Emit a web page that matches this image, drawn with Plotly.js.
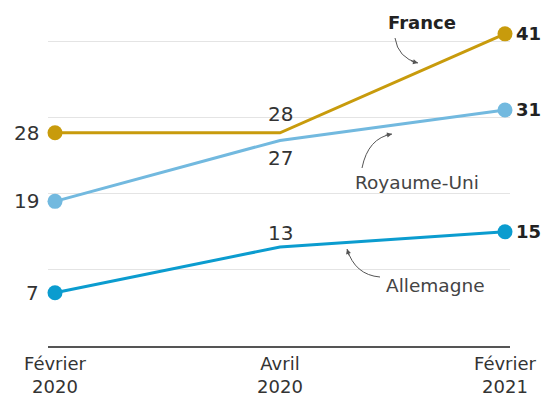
<!DOCTYPE html>
<html>
<head>
<meta charset="utf-8">
<script src="https://cdn.plot.ly/plotly-3.0.1.min.js"></script>
<style>html,body{margin:0;padding:0;background:#fff;}#chart{width:542px;height:401px;}</style>
</head>
<body>
<div id="chart"></div>
<script>
// ---- Data ----
const periods = ["Février<br>2020", "Avril<br>2020", "Février<br>2021"];
const france = [28, 28, 41];
const royaumeUni = [19, 27, 31];
const allemagne = [7, 13, 15];
const seriesNames = ["France", "Royaume-Uni", "Allemagne"];

// ---- Styling ----
const FONT = "DejaVu Sans, Liberation Sans, Arial, sans-serif";
const colors = {France: "#c89b0c", "Royaume-Uni": "#72b9df", Allemagne: "#0b9ccf"};
const xIdx = periods.map((_, i) => i);

// layout geometry
const L = 48, R = 32, T = 11, B = 55, W = 542, H = 401;
const xr = [-7 / 225, 2 + 5 / 225];
const yr = [0, 44];
// pixel -> data helper for annotation decorations
function P(px, py) {
  const x = xr[0] + (px - L) / (W - L - R) * (xr[1] - xr[0]);
  const y = yr[0] + (H - B - py) / (H - T - B) * (yr[1] - yr[0]);
  return [x, y];
}

function trace(name, vals) {
  return {
    x: xIdx, y: vals, name: name, type: "scatter",
    mode: "lines+markers",
    line: {color: colors[name], width: 3},
    marker: {color: colors[name], size: 15, opacity: [1, 0, 1]},
    cliponaxis: false,
    hoverinfo: "skip"
  };
}

const data = [
  trace("Allemagne", allemagne),
  trace("Royaume-Uni", royaumeUni),
  trace("France", france)
];

// value labels, read from the data arrays
function valueLabels(vals, midShift) {
  return vals.map((v, i) => {
    const a = {x: xIdx[i], y: v, xref: "x", yref: "y", showarrow: false,
      yanchor: "middle", text: String(v),
      font: {family: FONT, size: 20, color: "#333"}};
    if (i === 0) { a.xanchor = "right"; a.xshift = -14; }
    else if (i === 2) {
      a.xanchor = "left"; a.xshift = 9; a.text = "<b>" + v + "</b>";
      a.font = {family: FONT, size: 18, color: "#222"};
    }
    else { a.xanchor = "center"; a.yshift = midShift; }
    return a;
  });
}

// curved pointer paths (in pixel space converted to data)
function curve(p0, c, p1) {
  const a = P(...p0), b = P(...c), d = P(...p1);
  return `M ${a[0]},${a[1]} Q ${b[0]},${b[1]} ${d[0]},${d[1]}`;
}
const shapes = [
  {type: "path", xref: "x", yref: "y", path: curve([395, 38], [398, 58], [418, 63]), line: {color: "#555", width: 1}},
  {type: "path", xref: "x", yref: "y", path: curve([362, 168], [368, 138], [392, 134]), line: {color: "#555", width: 1}},
  {type: "path", xref: "x", yref: "y", path: curve([380, 277], [355, 275], [347, 249]), line: {color: "#555", width: 1}}
];

function head(px, py, ax, ay) {
  const p = P(px, py);
  return {x: p[0], y: p[1], xref: "x", yref: "y", text: "", showarrow: true,
    ax: ax, ay: ay, axref: "pixel", ayref: "pixel",
    arrowhead: 2, arrowsize: 1, arrowwidth: 1, arrowcolor: "#555", standoff: 0};
}
function label(txt, px, py, bold) {
  const p = P(px, py);
  return {x: p[0], y: p[1], xref: "x", yref: "y", text: bold ? "<b>" + txt + "</b>" : txt,
    showarrow: false, xanchor: "center", yanchor: "middle",
    font: {family: FONT, size: bold ? 18 : 18.5, color: bold ? "#222" : "#444"}};
}

const annotations = [].concat(
  valueLabels(france, 19),
  valueLabels(royaumeUni, -18),
  valueLabels(allemagne, 14),
  [
    label(seriesNames[0], 422, 22, true),
    label(seriesNames[1], 417, 182, false),
    label(seriesNames[2], 435, 285, false),
    head(418, 63, -8, -2),
    head(392, 134, -8, 1.5),
    head(347, 249, 2.5, 8)
  ]
);

const layout = {
  width: W, height: H,
  margin: {l: L, r: R, t: T, b: B},
  paper_bgcolor: "#fff", plot_bgcolor: "#fff",
  showlegend: false,
  font: {family: FONT, color: "#333"},
  xaxis: {
    range: xr, tickvals: xIdx, ticktext: periods,
    showgrid: false, zeroline: false,
    showline: true, linecolor: "#555", linewidth: 2,
    ticks: "", tickfont: {family: FONT, size: 18, color: "#333"}
  },
  yaxis: {
    range: yr, dtick: 10, showgrid: true, gridcolor: "#e4e4e4", gridwidth: 1,
    zeroline: false, showticklabels: false, ticks: ""
  },
  shapes: shapes,
  annotations: annotations
};

Plotly.newPlot("chart", data, layout, {displayModeBar: false, staticPlot: true});
</script>
</body>
</html>
